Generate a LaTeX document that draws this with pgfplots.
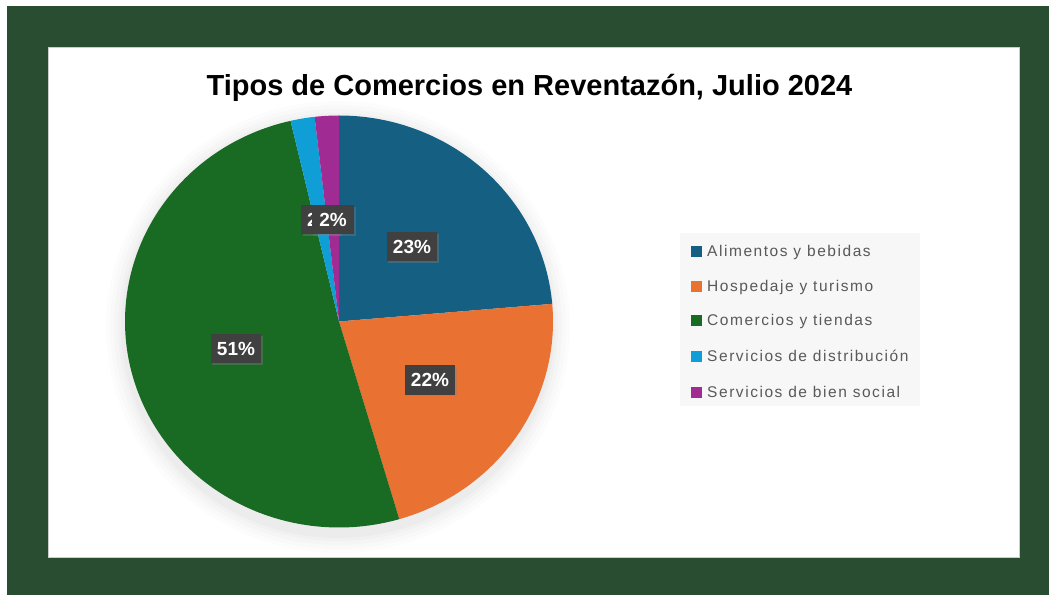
\documentclass[border=0pt]{standalone}
\usepackage{fontspec}
\setmainfont{Liberation Sans}
\newfontfamily\legfont[LetterSpace=10]{Liberation Sans}
\usepackage{pgfplots}
\pgfplotsset{compat=1.18}
\usetikzlibrary{shadows}
\definecolor{bgGreen}{RGB}{41,77,49}
\definecolor{cBlue}{HTML}{156082}
\definecolor{cOrange}{HTML}{E97132}
\definecolor{cGreen}{HTML}{196B24}
\definecolor{cLBlue}{HTML}{0F9ED5}
\definecolor{cPurple}{HTML}{A02B93}
\definecolor{labBox}{HTML}{404040}
\definecolor{legText}{HTML}{595959}
\begin{document}
\begin{tikzpicture}
\begin{axis}[
  width=1049bp, height=595bp, scale only axis,
  xmin=0, xmax=1049, ymin=0, ymax=595,
  hide axis, clip=false,
]
% frame
\fill[white] (axis cs:0,0) rectangle (axis cs:1049,595);
\fill[bgGreen] (axis cs:7,0) rectangle (axis cs:1049,589);
\filldraw[fill=white, draw=gray!40, line width=0.6bp] (axis cs:48,38) rectangle (axis cs:1019,548);
% soft shadow of the pie
\fill[black, opacity=0.010] (axis cs:338,268) ellipse [x radius=232bp, y radius=226bp];
\fill[black, opacity=0.012] (axis cs:338,268) ellipse [x radius=228bp, y radius=222bp];
\fill[black, opacity=0.014] (axis cs:338,268) ellipse [x radius=224bp, y radius=218bp];
\fill[black, opacity=0.016] (axis cs:338,268) ellipse [x radius=220bp, y radius=214bp];
\fill[black, opacity=0.018] (axis cs:338,268) ellipse [x radius=217bp, y radius=211bp];
% pie slices (counts 13, 12, 28, 1, 1 of 55)
\addplot[fill=cBlue, draw=none, domain={90-360*13/55}:90, samples=80, variable=\t]
  ({339+214*cos(t)},{273.5+206*sin(t)}) -- (axis cs:339,273.5) -- cycle;
\addplot[fill=cOrange, draw=none, domain={90-360*25/55}:{90-360*13/55}, samples=80, variable=\t]
  ({339+214*cos(t)},{273.5+206*sin(t)}) -- (axis cs:339,273.5) -- cycle;
\addplot[fill=cGreen, draw=none, domain={90-360*53/55}:{90-360*25/55}, samples=140, variable=\t]
  ({339+214*cos(t)},{273.5+206*sin(t)}) -- (axis cs:339,273.5) -- cycle;
\addplot[fill=cLBlue, draw=none, domain={90-360*54/55}:{90-360*53/55}, samples=10, variable=\t]
  ({339+214*cos(t)},{273.5+206*sin(t)}) -- (axis cs:339,273.5) -- cycle;
\addplot[fill=cPurple, draw=none, domain={90-360*55/55}:{90-360*54/55}, samples=10, variable=\t]
  ({339+214*cos(t)},{273.5+206*sin(t)}) -- (axis cs:339,273.5) -- cycle;
% title
\node[anchor=base, font=\fontsize{29bp}{30bp}\selectfont\bfseries] at (axis cs:529.5,499) {Tipos de Comercios en Reventazón, Julio 2024};
% data labels
\tikzset{lab/.style={fill=labBox, text=white, font=\fontsize{19bp}{20bp}\selectfont\bfseries,
  inner xsep=6bp, inner ysep=0pt, minimum height=29bp, text height=13.6bp, text depth=0pt,
  drop shadow={opacity=0.35, shadow xshift=1.5bp, shadow yshift=-1.5bp}}}
\node[lab] at (axis cs:412,348) {23\%};
\node[lab] at (axis cs:430,215) {22\%};
\node[lab] at (axis cs:236,246) {51\%};
\node[lab, inner xsep=6bp] at (axis cs:320.75,375) {2\%};
\node[lab, inner xsep=7.5bp] at (axis cs:333,375) {2\%};
% legend
\fill[gray!6] (axis cs:680,189) rectangle (axis cs:920,362);
\tikzset{legt/.style={anchor=base west, inner sep=0pt, text=legText, font=\legfont\fontsize{15.5bp}{16bp}\selectfont}}
\fill[cBlue]   (axis cs:691,337.5) rectangle (axis cs:702,348.5);
\node[legt] at (axis cs:707,338) {Alimentos y bebidas};
\fill[cOrange] (axis cs:691,302.5) rectangle (axis cs:702,313.5);
\node[legt] at (axis cs:707,303) {Hospedaje y turismo};
\fill[cGreen]  (axis cs:691,268.5) rectangle (axis cs:702,279.5);
\node[legt] at (axis cs:707,269) {Comercios y tiendas};
\fill[cLBlue]  (axis cs:691,232.5) rectangle (axis cs:702,243.5);
\node[legt] at (axis cs:707,233) {Servicios de distribución};
\fill[cPurple] (axis cs:691,197.5) rectangle (axis cs:702,208.5);
\node[legt] at (axis cs:707,198) {Servicios de bien social};
\end{axis}
\end{tikzpicture}
\end{document}
